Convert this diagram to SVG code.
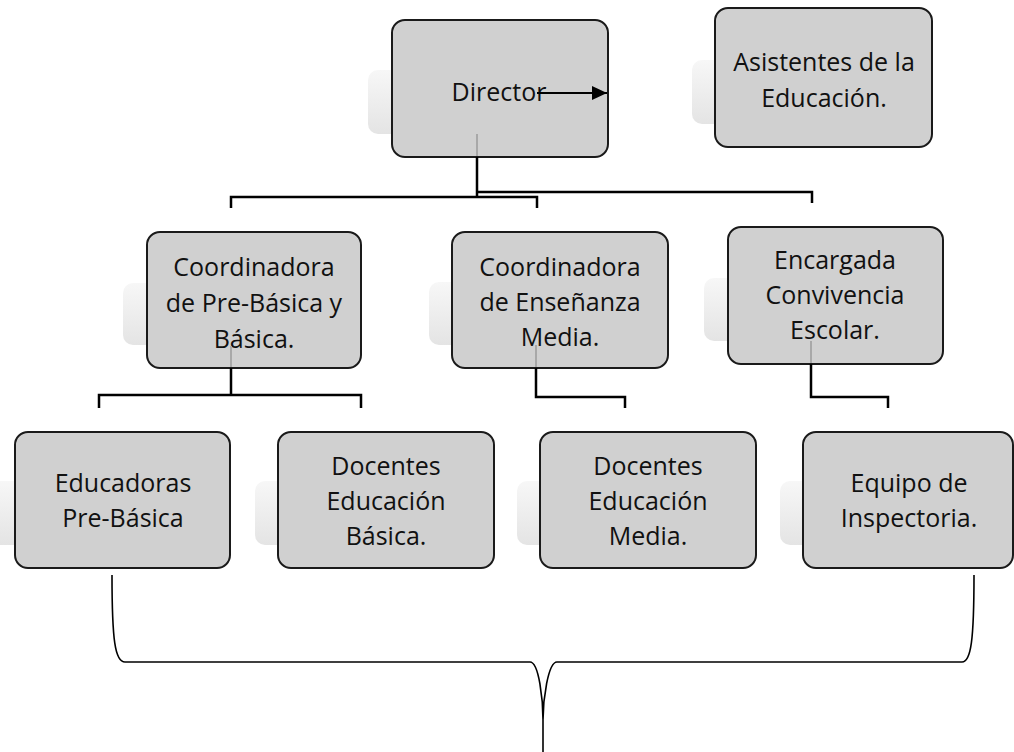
<svg xmlns="http://www.w3.org/2000/svg" width="1014" height="752" viewBox="0 0 1014 752">
<defs>
<linearGradient id="sh" x1="0" y1="0" x2="0" y2="1">
<stop offset="0" stop-color="#f7f7f7"/>
<stop offset="1" stop-color="#e4e4e4"/>
</linearGradient>
<marker id="ah" viewBox="0 0 15 14" refX="15" refY="7" markerWidth="15" markerHeight="14" markerUnits="userSpaceOnUse" orient="auto">
<path d="M0,0 L15,7 L0,14 z" fill="#000"/>
</marker>
<style>
.shadow{fill:url(#sh);}
.box{fill:#d0d0d0;stroke:#1a1a1a;stroke-width:2;}
.t{font-family:"Open Sans","Noto Sans",sans-serif;font-size:25px;fill:#111;text-anchor:middle;}
.c{fill:none;stroke:#000;stroke-width:2.5;}
.cf{fill:none;stroke:#a8a8a8;stroke-width:2;}
.br{fill:none;stroke:#000;stroke-width:1.6;}
</style>
</defs>
<rect width="1014" height="752" fill="#fff"/>

<g id="director">
<rect class="shadow" x="368" y="70" width="216" height="64" rx="10"/>
<rect class="box" x="392" y="20" width="216" height="137" rx="13"/>
<text class="t" x="499" y="101">Director</text>
</g>
<g id="asistentes">
<rect class="shadow" x="692" y="60" width="217" height="64" rx="10"/>
<rect class="box" x="715" y="8" width="217" height="139" rx="13"/>
<text class="t" x="824" y="71">Asistentes de la</text>
<text class="t" x="824" y="107">Educación.</text>
</g>
<g id="coord-basica">
<rect class="shadow" x="123" y="283" width="214" height="62" rx="10"/>
<rect class="box" x="147" y="232" width="214" height="136" rx="13"/>
<text class="t" x="254" y="276">Coordinadora</text>
<text class="t" x="254" y="312">de Pre-Básica y</text>
<text class="t" x="254" y="348">Básica.</text>
</g>
<g id="coord-media">
<rect class="shadow" x="429" y="282" width="216" height="63" rx="10"/>
<rect class="box" x="452" y="232" width="216" height="136" rx="13"/>
<text class="t" x="560" y="276">Coordinadora</text>
<text class="t" x="560" y="311">de Enseñanza</text>
<text class="t" x="560" y="346">Media.</text>
</g>
<g id="encargada">
<rect class="shadow" x="704" y="278" width="215" height="63" rx="10"/>
<rect class="box" x="728" y="227" width="215" height="137" rx="13"/>
<text class="t" x="835" y="269">Encargada</text>
<text class="t" x="835" y="304">Convivencia</text>
<text class="t" x="835" y="339">Escolar.</text>
</g>
<g id="educadoras">
<rect class="shadow" x="-9" y="481" width="215" height="64" rx="10"/>
<rect class="box" x="15" y="432" width="215" height="136" rx="13"/>
<text class="t" x="123" y="492">Educadoras</text>
<text class="t" x="123" y="527">Pre-Básica</text>
</g>
<g id="docentes-basica">
<rect class="shadow" x="255" y="481" width="216" height="64" rx="10"/>
<rect class="box" x="278" y="432" width="216" height="136" rx="13"/>
<text class="t" x="386" y="475">Docentes</text>
<text class="t" x="386" y="510">Educación</text>
<text class="t" x="386" y="545">Básica.</text>
</g>
<g id="docentes-media">
<rect class="shadow" x="517" y="481" width="216" height="64" rx="10"/>
<rect class="box" x="540" y="432" width="216" height="136" rx="13"/>
<text class="t" x="648" y="475">Docentes</text>
<text class="t" x="648" y="510">Educación</text>
<text class="t" x="648" y="545">Media.</text>
</g>
<g id="equipo">
<rect class="shadow" x="780" y="481" width="217" height="64" rx="10"/>
<rect class="box" x="803" y="432" width="210" height="136" rx="13"/>
<text class="t" x="909" y="492">Equipo de</text>
<text class="t" x="909" y="527">Inspectoria.</text>
</g>

<g id="connectors">
<path class="cf" d="M477,134 V156 M231,346 V367 M536,345 V367 M811,341 V363"/>
<path class="c" d="M477,157 V197 M477,192 H812 V203 M231,208 V197 H537 V208"/>
<path class="c" d="M231,368 V395 M99,408 V395 H361 V408"/>
<path class="c" d="M536,368 V397 H625 V408"/>
<path class="c" d="M811,364 V397 H888 V408"/>
<path d="M537,93 H607" stroke="#000" stroke-width="2" fill="none" marker-end="url(#ah)"/>
<path class="br" d="M112,575 C112,640 115,662 125,662 L530,662 C539,662 543,700 543,720 L543,752 M543,720 C543,700 548,662 557,662 L962,662 C971,662 974,640 974,575"/>
</g>
</svg>
